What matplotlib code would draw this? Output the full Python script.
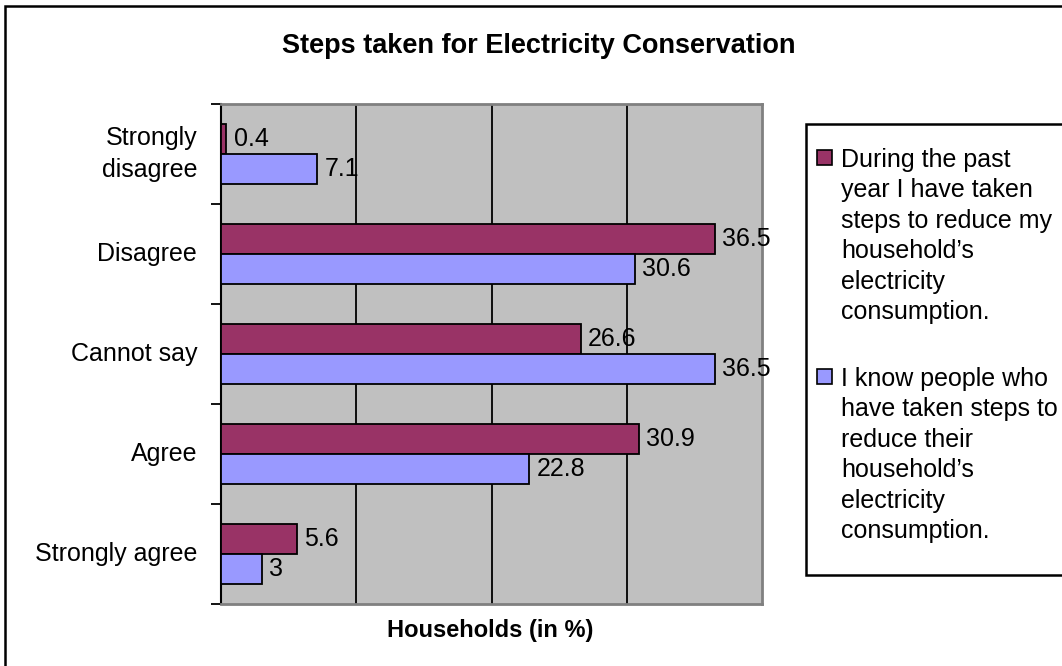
import matplotlib
matplotlib.use("Agg")
import matplotlib.pyplot as plt
from matplotlib.patches import Rectangle
import numpy as np

plt.rcParams['font.family'] = ['Liberation Sans', 'DejaVu Sans']

categories = ["Strongly\ndisagree", "Disagree", "Cannot say", "Agree", "Strongly agree"]
taken_steps = [0.4, 36.5, 26.6, 30.9, 5.6]
know_people = [7.1, 30.6, 36.5, 22.8, 3]
series_names = [
    "During the past\nyear I have taken\nsteps to reduce my\nhousehold\u2019s\nelectricity\nconsumption.",
    "I know people who\nhave taken steps to\nreduce their\nhousehold\u2019s\nelectricity\nconsumption.",
]
colors = ["#993366", "#9999FF"]

W, H = 1062, 666
fig = plt.figure(figsize=(W / 100, H / 100), dpi=100)
fig.patch.set_facecolor("white")

def fx(px):
    return px / W

def fy(py):
    return 1 - py / H

# chart frame
fig.patches.append(Rectangle((fx(5), fy(700)), fx(1100) - fx(5), fy(6) - fy(700),
                             transform=fig.transFigure, fill=False, edgecolor="black",
                             linewidth=1.8, clip_on=False))

ax = fig.add_axes([fx(221), fy(604), fx(762) - fx(221), fy(104) - fy(604)])
ax.set_facecolor("#C0C0C0")

y = np.arange(len(categories))
h = 0.3
ax.barh(y - h / 2, taken_steps, height=h, color=colors[0], edgecolor="black", linewidth=1.3, zorder=3)
ax.barh(y + h / 2, know_people, height=h, color=colors[1], edgecolor="black", linewidth=1.3, zorder=3)

label_size = 18
for yi, v in zip(y, taken_steps):
    ax.text(v + 0.55, yi - h / 2, f"{v:g}", va="center", ha="left", fontsize=label_size, zorder=4)
for yi, v in zip(y, know_people):
    ax.text(v + 0.55, yi + h / 2, f"{v:g}", va="center", ha="left", fontsize=label_size, zorder=4)

ax.set_xlim(0, 40)
ax.set_ylim(len(categories) - 0.5, -0.5)
for gx in (10, 20, 30):
    ax.axvline(gx, color="black", linewidth=1.3, zorder=1)

ax.set_xticks([])
ax.set_yticks(np.arange(-0.5, len(categories), 1.0))
ax.set_yticklabels([])
ax.tick_params(axis="y", direction="out", length=7, width=1.3, color="black")
for yi, lab in zip(y, categories):
    ax.text(-0.044, yi, lab, ha="right", va="center", fontsize=label_size,
            linespacing=1.4, transform=ax.get_yaxis_transform())

ax.spines["left"].set_color("black")
ax.spines["left"].set_linewidth(1.5)
for s in ("top", "right", "bottom"):
    ax.spines[s].set_color("#808080")
    ax.spines[s].set_linewidth(2)

fig.text(fx(539), fy(53), "Steps taken for Electricity Conservation", ha="center", va="baseline",
         fontsize=19.5, fontweight="bold")
fig.text(fx(490), fy(637), "Households (in %)", ha="center", va="baseline",
         fontsize=17, fontweight="bold")

# legend box
fig.patches.append(Rectangle((fx(806), fy(575)), fx(1100) - fx(806), fy(124) - fy(575),
                             transform=fig.transFigure, facecolor="white", edgecolor="black",
                             linewidth=1.8, clip_on=False))
entry_tops = [148, 367]
for top, name, c in zip(entry_tops, series_names, colors):
    fig.patches.append(Rectangle((fx(817), fy(top + 17)), fx(15), fy(0) - fy(15),
                                 transform=fig.transFigure, facecolor=c, edgecolor="black",
                                 linewidth=1.2))
    fig.text(fx(841), fy(top), name, ha="left", va="top", fontsize=label_size, linespacing=1.34)

fig.savefig("out.png", dpi=100)
